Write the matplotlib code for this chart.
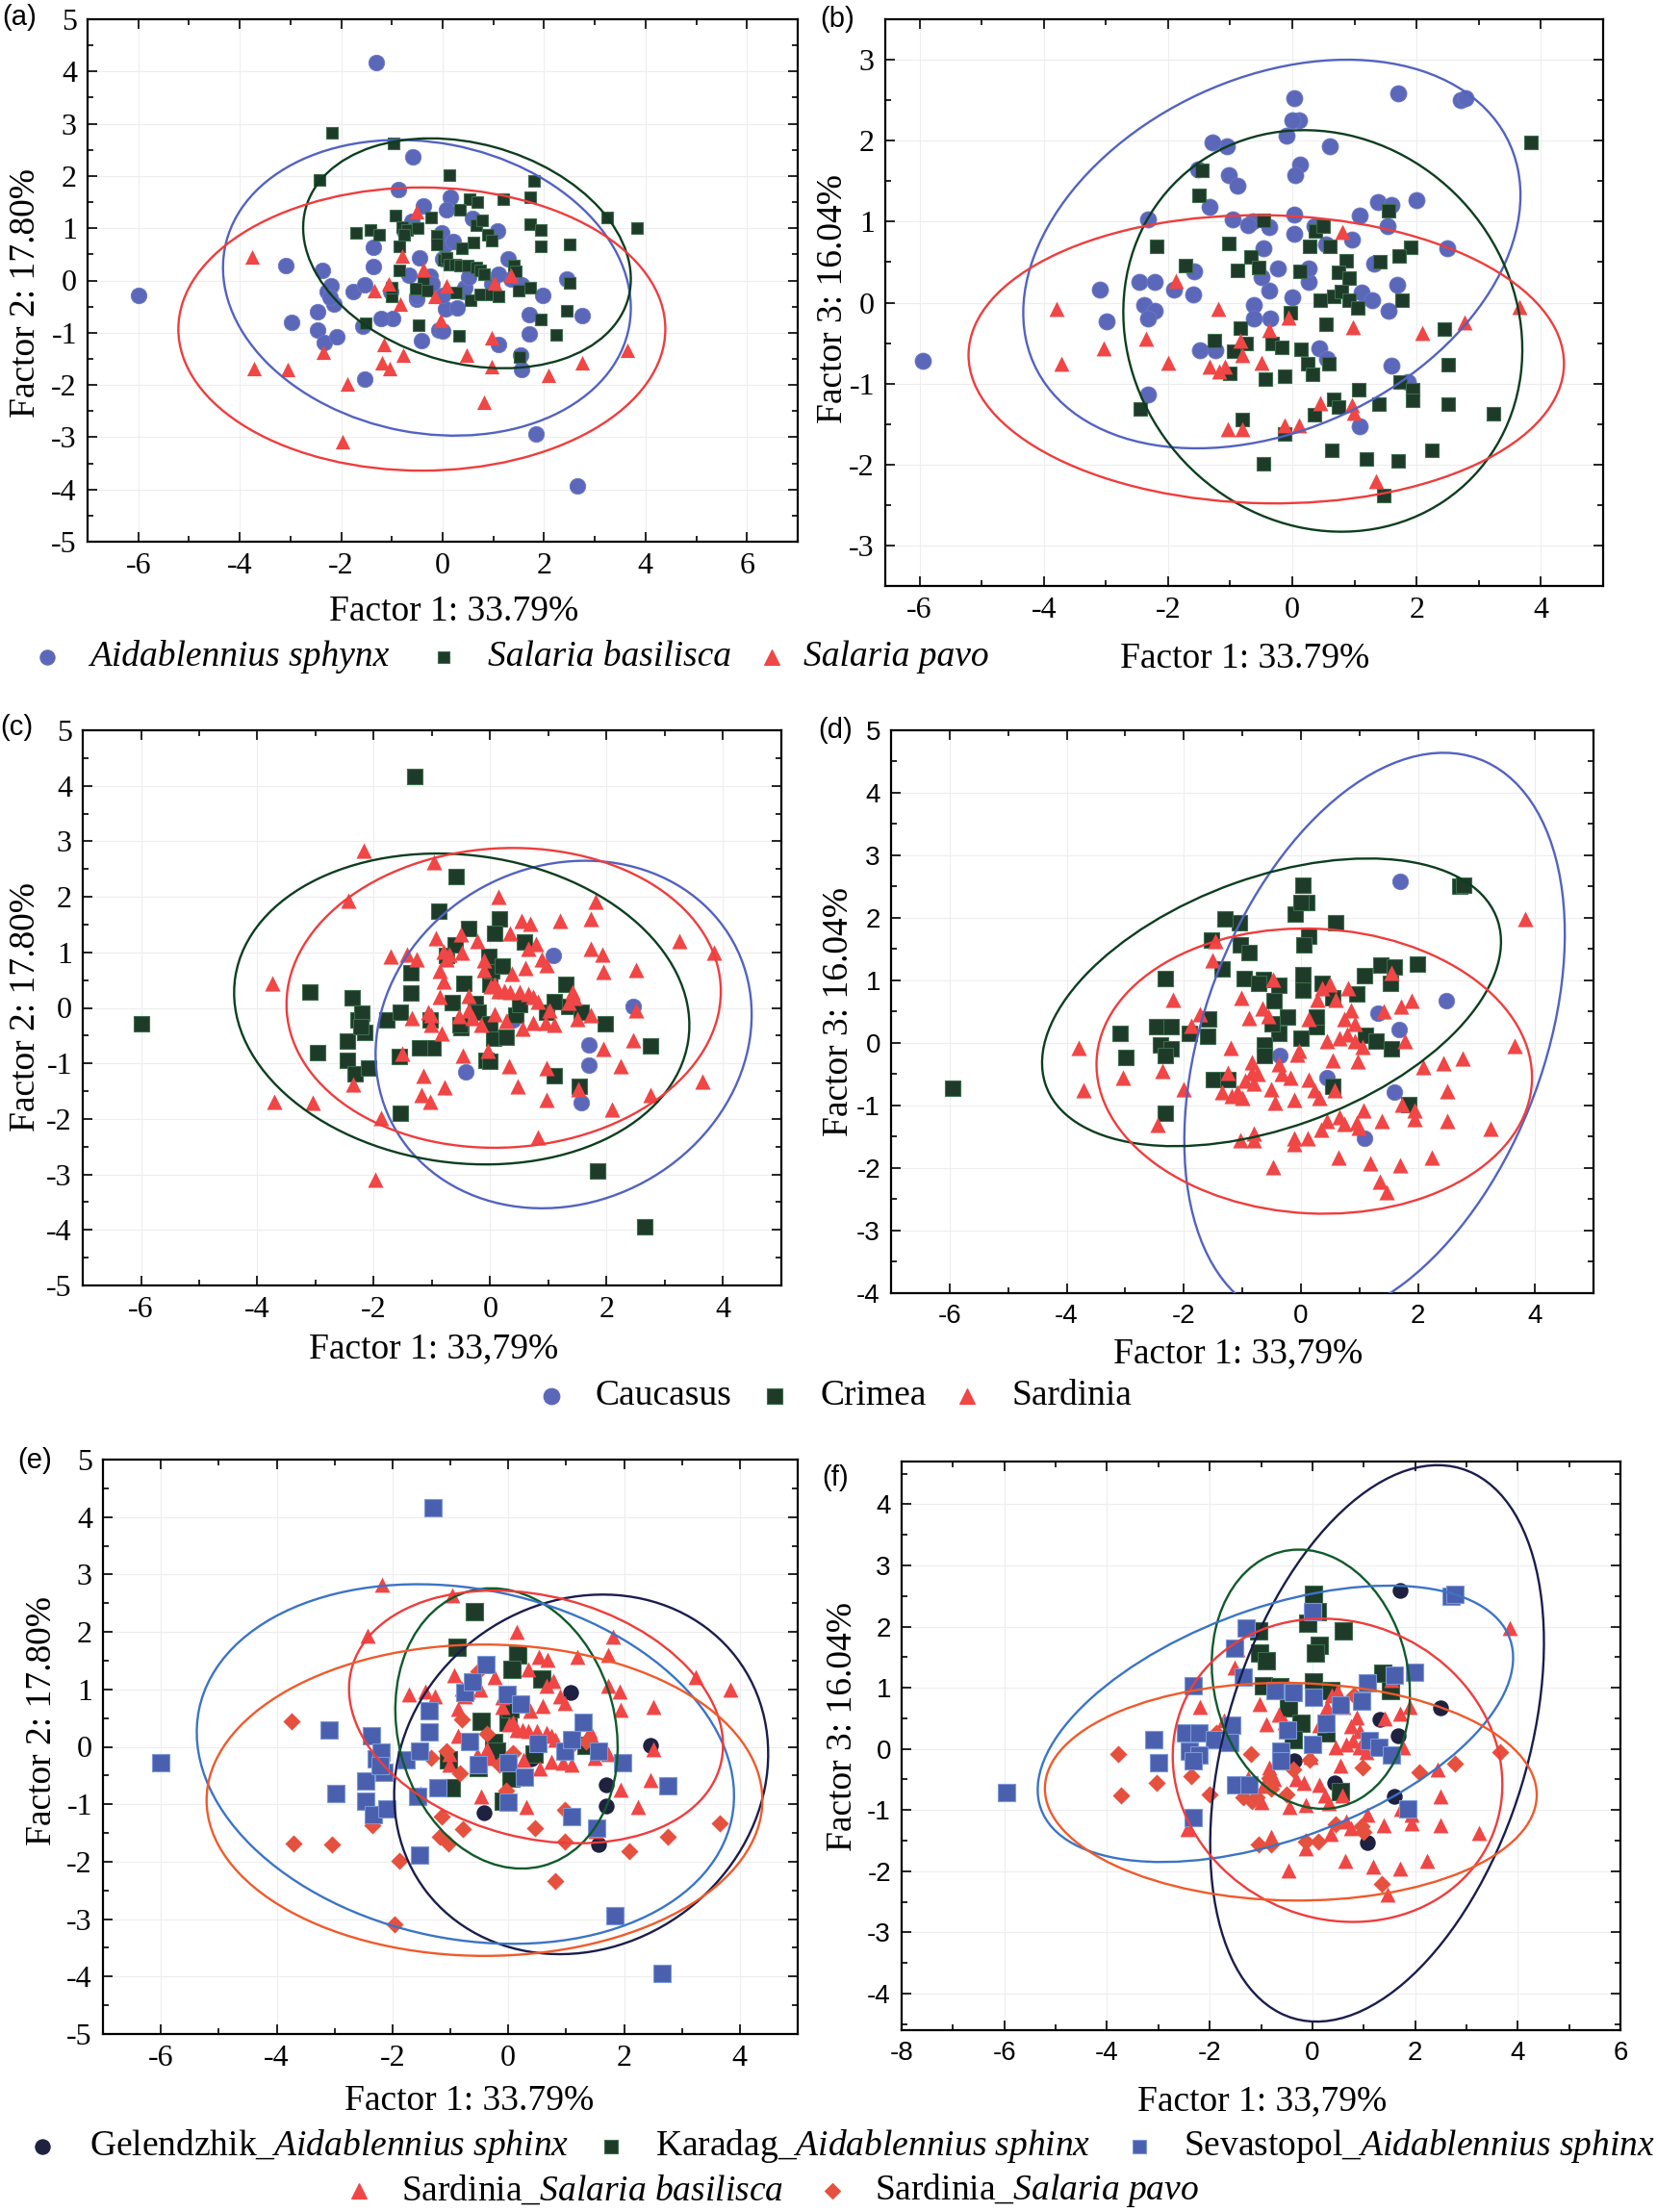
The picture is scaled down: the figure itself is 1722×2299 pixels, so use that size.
import numpy as np
import matplotlib
matplotlib.use("Agg")
import matplotlib.pyplot as plt
from matplotlib.patches import Ellipse
from matplotlib.ticker import MultipleLocator

plt.rcParams['font.family'] = ['Liberation Serif', 'DejaVu Serif']
plt.rcParams['mathtext.fontset'] = 'custom'
plt.rcParams['mathtext.rm'] = 'Liberation Serif'
plt.rcParams['mathtext.it'] = 'Liberation Serif:italic'
plt.rcParams['axes.unicode_minus'] = False

# ===================== DATA =====================
# ---- plane Factor 1 x Factor 2 ----
gel12_f1 = [1.08, 2.45, 1.70, 1.70, 1.56, -0.42, 0.39]
gel12_f2 = [0.94, 0.02, -0.66, -1.03, -1.70, -1.15, -0.21]

kar12_f1 = [-0.59, -0.88, 0.16, 0.07, 0.58, -0.46, 0.00, 0.03, -0.25, -0.20,
            -1.03, -0.51, 0.05, -0.98, -0.08, 1.35, 0.44]
kar12_f2 = [2.36, 1.74, 1.60, 1.35, 1.18, 0.44, 0.42, 0.67, 0.08, -0.07,
            -0.22, -0.36, -0.55, -0.72, -0.94, 0.03, -0.13]

sev12_f1 = [-1.30, -6.00, -3.10, -2.37, -2.28, -2.15, -2.46, -2.97, -2.46, -2.33,
            -2.09, -1.54, -1.57, -1.21, -1.77, -1.54, -1.36, -1.36, -0.75, -0.61,
            -0.38, -0.66, -0.52, 0.00, 0.00, 0.28, -0.02, 0.21, 0.51, 0.97,
            1.10, 1.29, 1.56, 1.97, 2.75, 1.10, 1.53, 1.84, 2.66, -2.20, -2.22]
sev12_f2 = [4.17, -0.28, 0.29, 0.19, -0.21, -0.45, -0.60, -0.81, -0.95, -1.18,
            -1.08, -1.89, -0.87, -0.72, -0.22, -0.08, 0.63, 0.26, 0.94, 1.13,
            1.43, 0.10, -0.31, -0.28, -0.97, -0.52, 0.92, 0.75, 0.06, -0.07,
            0.12, 0.42, -0.08, -0.28, -0.68, -1.22, -1.42, -2.94, -3.94, -0.10, -0.33]

bas12_f1 = [-2.18, -0.97, -2.43, 0.14, 1.81, 1.73, 0.53, 0.68, 1.20, 0.34,
            -0.93, -0.23, 3.24, 3.84, 1.73, 1.93, -1.71, -1.43, -1.26, -0.80,
            -0.70, -0.49, -0.75, -0.11, -0.11, 0.66, 0.78, 0.89, 0.97, 0.60,
            0.38, 1.94, 2.50, -0.86, -0.86, 0.01, 0.08, 0.14, 0.24, 0.34,
            0.50, 0.66, 0.74, 0.81, 1.41, 1.45, -0.37, -0.53, -0.30, -1.01,
            0.27, 0.55, 0.74, 0.95, 1.10, 1.49, 1.73, 2.50, -1.51, -0.47,
            0.32, 1.94, 2.45, 2.24, 1.51, -1.01]
bas12_f2 = [2.83, 2.63, 1.93, 2.01, 1.91, 1.60, 1.56, 1.51, 1.56, 1.35,
            1.25, 1.21, 1.21, 1.00, 1.07, 0.96, 0.92, 0.96, 0.88, 1.02,
            0.96, 1.00, 0.88, 0.86, 0.69, 1.06, 1.15, 0.88, 0.77, 0.72,
            0.62, 0.65, 0.69, 0.66, 0.20, 0.39, 0.43, 0.30, 0.30, 0.28,
            0.28, 0.25, 0.20, 0.12, 0.28, 0.18, -0.05, -0.15, -0.19, -0.31,
            -0.23, -0.38, -0.26, -0.27, -0.31, -0.20, -0.13, -0.04, -0.82, -0.86,
            -1.05, -0.74, -0.58, -1.04, -1.47, -0.13]

pav12_f1 = [-3.75, -0.51, -0.80, -0.37, -1.34, -1.06, -0.84, 0.08, -0.15, -0.04,
            1.02, 1.35, -1.15, -1.19, -1.04, -0.78, -2.35, -3.71, -3.05, -1.88,
            -1.97, 0.47, 0.97, 0.97, 0.81, 2.09, 2.75, 3.65]
pav12_f2 = [0.45, 1.32, 0.47, 0.22, -0.19, -0.07, -0.46, -0.11, -0.31, -0.77,
            -0.05, 0.10, -1.22, -1.57, -1.69, -1.43, -1.37, -1.69, -1.70, -1.98,
            -3.09, -1.42, -1.09, -1.65, -2.33, -1.82, -1.57, -1.33]

# ---- plane Factor 1 x Factor 3 ----
gel13_f1 = [1.70, 2.49, 1.32, 1.68, -0.36, 0.44, 1.60, 1.08]
gel13_f3 = [2.59, 0.67, 0.48, 0.22, -0.20, -0.56, -0.78, -1.53]

kar13_f1 = [0.03, 0.10, -0.10, 0.60, -1.05, 0.13, 0.05, -1.03, -0.89, 1.37,
            1.53, -0.96, -0.64, 0.03, 0.36, -0.46, -0.23, -0.38, 0.26, 0.55]
kar13_f3 = [2.53, 2.25, 2.06, 1.93, 1.93, 1.70, 1.57, 1.57, 1.44, 1.24,
            0.95, 1.03, 1.01, 1.09, 0.95, 0.67, 0.42, 0.15, 0.26, -0.70]

sev13_f1 = [-5.95, 2.71, 2.78, 0.00, -1.29, -1.52, -1.34, -2.32, 1.99, 1.60,
            1.08, -0.72, -0.38, 0.03, 0.96, 0.54, -1.58, 0.26, -0.49, -3.09,
            -2.47, -2.21, -1.91, -1.60, -2.39, -2.21, -2.32, -0.62, -0.62, 0.00,
            1.11, 1.29, 1.54, -2.99, -1.49, -1.24, 1.85, -2.32]
sev13_f3 = [-0.72, 2.50, 2.53, 2.25, 1.98, 1.65, 1.18, 1.03, 1.26, 1.21,
            1.08, 0.96, 0.93, 0.85, 0.78, 0.72, 0.39, 0.42, 0.31, 0.16,
            0.26, 0.26, 0.16, 0.10, -0.03, -0.10, -0.20, -0.03, -0.20, 0.07,
            0.13, 0.03, -0.10, -0.23, -0.59, -0.59, -0.98, -1.13]

bas13_f1 = [3.84, -1.46, -1.51, -0.47, 1.54, 0.37, 0.49, 0.28, 0.60, -2.19,
            -1.02, 1.90, 1.71, -0.66, -1.72, -0.89, -0.55, 1.41, 0.86, 0.13,
            0.75, 0.92, 0.45, 0.66, 0.79, 0.92, 1.05, 1.77, -0.03, 0.54,
            -0.84, -1.25, -0.74, -0.95, -0.32, -0.17, 0.14, 0.24, 0.58, 0.32,
            -1.00, -0.44, -0.12, 2.44, 2.50, 1.73, 1.94, 1.07, 1.94, 0.66,
            0.75, 1.39, 2.50, 0.35, -2.44, -0.81, -0.12, 3.24, 0.64, -0.47,
            1.19, 1.70, 2.24, 1.47]
bas13_f3 = [1.98, 1.63, 1.33, 1.02, 1.13, 0.88, 0.94, 0.69, 0.69, 0.69,
            0.73, 0.68, 0.58, 0.56, 0.46, 0.40, 0.43, 0.50, 0.52, 0.39,
            0.38, 0.30, 0.03, 0.08, 0.14, 0.03, -0.06, 0.03, -0.13, -0.27,
            -0.31, -0.47, -0.50, -0.60, -0.50, -0.55, -0.58, -0.76, -0.76, -0.88,
            -0.87, -0.95, -0.91, -0.33, -0.77, -0.98, -1.08, -1.08, -1.21, -1.19,
            -1.29, -1.25, -1.25, -1.39, -1.31, -1.44, -1.62, -1.37, -1.83, -1.99,
            -1.93, -1.96, -1.83, -2.38]

pav13_f1 = [-3.79, -3.72, -3.04, -2.36, -2.00, -1.87, -1.19, -1.34, -1.18, -1.08,
            -0.84, -0.81, -0.50, -0.37, -0.06, 0.81, 0.98, 2.09, 2.77, 3.66,
            -1.04, -0.81, -0.12, 0.11, 0.45, 0.96, 0.99, 1.35]
pav13_f3 = [-0.08, -0.76, -0.56, -0.45, -0.74, 0.27, -0.08, -0.79, -0.85, -0.79,
            -0.47, -0.65, -0.74, -0.34, -0.18, 0.87, -0.30, -0.38, -0.24, -0.05,
            -1.56, -1.56, -1.52, -1.52, -1.24, -1.27, -1.36, -2.21]

# ---- 95% ellipses: [centre F1, centre Fy, F1 half-range, Fy half-range, F1 offset of top point]
ell12_aida = [-0.31, -0.14, 4.02, 2.83, -0.55]
ell12_bas = [0.48, 0.52, 3.23, 2.20, -0.72]
ell12_pav = [-0.41, -0.93, 4.80, 2.71, 0.00]
ell12_cau = [1.26, -0.48, 3.23, 3.13, 0.37]
ell12_cri = [-0.49, -0.02, 3.91, 2.80, -0.41]
ell12_sar = [0.23, 0.18, 3.73, 2.70, 0.16]
ell12_kar = [-0.03, 0.32, 1.92, 2.44, -0.26]
ell12_sev = [-0.74, -0.30, 4.64, 3.13, -0.82]

ell13_aida = [-0.33, 0.60, 4.00, 2.40, 1.21]
ell13_bas = [0.49, -0.35, 3.21, 2.48, -0.30]
ell13_pav = [-0.42, -0.70, 4.79, 1.78, -0.14]
ell13_cau = [1.26, 0.09, 3.25, 4.55, 1.18]
ell13_cri = [-0.50, 0.65, 3.92, 2.30, 1.65]
ell13_sar = [0.23, -0.45, 3.72, 2.28, -0.17]
ell13_kar = [-0.03, 1.14, 1.93, 2.12, -0.23]
ell13_sev = [-0.72, 0.41, 4.63, 2.26, 2.21]

# ---- text ----
lab_f1 = "Factor 1: 33.79%"
lab_f1c = "Factor 1: 33,79%"
lab_f2 = "Factor 2: 17.80%"
lab_f3 = "Factor 3: 16.04%"
species_names = ["Aidablennius sphynx", "Salaria basilisca", "Salaria pavo"]
region_names = ["Caucasus", "Crimea", "Sardinia"]
pop_names = [r"Gelendzhik_$\mathit{Aidablennius\ sphinx}$",
             r"Karadag_$\mathit{Aidablennius\ sphinx}$",
             r"Sevastopol_$\mathit{Aidablennius\ sphinx}$",
             r"Sardinia_$\mathit{Salaria\ basilisca}$",
             r"Sardinia_$\mathit{Salaria\ pavo}$"]

# ===================== STYLE =====================
C_BLUE = '#5b67b9'
C_GREEN = '#1e3b2a'
C_GREEN_E = '#3d6e4c'
C_RED = '#f04646'
C_NAVY = '#1e2140'
C_SEV = '#4a60ae'
C_SEV_E = '#7a98d8'
C_DIAM = '#e6503e'

E_BLUE = '#5262c2'
E_GREEN = '#0c3e1e'
E_RED = '#f03c3c'
E_NAVY = '#1a1d4c'
E_KAR = '#0f5a2a'
E_SEV = '#3b74c6'
E_PAV = '#f05a2a'

W, H = 1722, 2299
fig = plt.figure(figsize=(W / 100, H / 100), dpi=100)
fig.patch.set_facecolor('white')


def add_ax(x0, y0, x1, y1):
    return fig.add_axes([x0 / W, 1 - y1 / H, (x1 - x0) / W, (y1 - y0) / H])


def ftext(x, y, s, **kw):
    return fig.text(x / W, 1 - y / H, s, **kw)


def draw_ellipse(ax, p, color, lw=1.7):
    cx, cy, hx, hy, sh = p
    cov = np.array([[hx ** 2, sh * hy], [sh * hy, hy ** 2]])
    vals, vecs = np.linalg.eigh(cov)
    ang = np.degrees(np.arctan2(vecs[1, 1], vecs[0, 1]))
    ax.add_patch(Ellipse((cx, cy), 2 * np.sqrt(vals[1]), 2 * np.sqrt(vals[0]),
                         angle=ang, fill=False, edgecolor=color, lw=lw, zorder=6))


def setup(ax, xlim, ylim, xticks, yticks, sans=False):
    ax.set_xlim(*xlim)
    ax.set_ylim(*ylim)
    fam = 'Liberation Sans' if sans else 'Liberation Serif'
    fs = 20 if sans else 23
    xticks = list(xticks)
    yticks = list(yticks)
    ax.set_xticks(xticks, labels=[str(t) for t in xticks], fontsize=fs, fontfamily=fam)
    ax.set_yticks(yticks, labels=[str(t) for t in yticks], fontsize=fs, fontfamily=fam)
    ax.xaxis.set_minor_locator(MultipleLocator(1))
    ax.yaxis.set_minor_locator(MultipleLocator(0.5))
    ax.tick_params(which='both', direction='in', top=True, right=True, width=1.2)
    ax.tick_params(which='major', length=7, pad=8)
    ax.tick_params(which='minor', length=4)
    ax.grid(True, which='major', color='#ededed', lw=0.8)
    ax.set_axisbelow(True)
    for s in ax.spines.values():
        s.set_linewidth(1.6)


def cat(*lists):
    out = []
    for l in lists:
        out += l
    return out


aida12_f1 = cat(gel12_f1, kar12_f1, sev12_f1)
aida12_f2 = cat(gel12_f2, kar12_f2, sev12_f2)
aida13_f1 = cat(gel13_f1, kar13_f1, sev13_f1)
aida13_f3 = cat(gel13_f3, kar13_f3, sev13_f3)
cri12_f1 = cat(kar12_f1, sev12_f1)
cri12_f2 = cat(kar12_f2, sev12_f2)
cri13_f1 = cat(kar13_f1, sev13_f1)
cri13_f3 = cat(kar13_f3, sev13_f3)
sar12_f1 = cat(bas12_f1, pav12_f1)
sar12_f2 = cat(bas12_f2, pav12_f2)
sar13_f1 = cat(bas13_f1, pav13_f1)
sar13_f3 = cat(bas13_f3, pav13_f3)

# ---------- (a) ----------
ax = add_ax(91, 20, 829, 563)
setup(ax, (-7, 7), (-5, 5), range(-6, 7, 2), range(-5, 6))
ax.scatter(aida12_f1, aida12_f2, s=140, marker='o', c=C_BLUE, edgecolors='#6d78c6', linewidths=0.6, zorder=3)
ax.scatter(bas12_f1, bas12_f2, s=85, marker='s', c=C_GREEN, edgecolors=C_GREEN_E, linewidths=0.8, zorder=4)
ax.scatter(pav12_f1, pav12_f2, s=120, marker='^', c=C_RED, linewidths=0, zorder=5)
draw_ellipse(ax, ell12_aida, E_BLUE)
draw_ellipse(ax, ell12_bas, E_GREEN)
draw_ellipse(ax, ell12_pav, E_RED)

# ---------- (b) ----------
ax = add_ax(920, 20, 1666, 609)
setup(ax, (-6.55, 5.0), (-3.5, 3.5), range(-6, 5, 2), range(-3, 4))
ax.scatter(aida13_f1, aida13_f3, s=150, marker='o', c=C_BLUE, edgecolors='#6d78c6', linewidths=0.6, zorder=3)
ax.scatter(bas13_f1, bas13_f3, s=115, marker='s', c=C_GREEN, edgecolors=C_GREEN_E, linewidths=0.8, zorder=4)
ax.scatter(pav13_f1, pav13_f3, s=130, marker='^', c=C_RED, linewidths=0, zorder=5)
draw_ellipse(ax, ell13_aida, E_BLUE)
draw_ellipse(ax, ell13_bas, E_GREEN)
draw_ellipse(ax, ell13_pav, E_RED)

# ---------- (c) ----------
ax = add_ax(86, 759, 812, 1336)
setup(ax, (-7, 5), (-5, 5), range(-6, 5, 2), range(-5, 6))
ax.scatter(gel12_f1, gel12_f2, s=140, marker='o', c=C_BLUE, edgecolors='#6d78c6', linewidths=0.6, zorder=3)
ax.scatter(cri12_f1, cri12_f2, s=140, marker='s', c=C_GREEN, edgecolors=C_GREEN_E, linewidths=0.8, zorder=4)
ax.scatter(sar12_f1, sar12_f2, s=135, marker='^', c=C_RED, linewidths=0, zorder=5)
draw_ellipse(ax, ell12_cau, E_BLUE)
draw_ellipse(ax, ell12_cri, E_GREEN)
draw_ellipse(ax, ell12_sar, E_RED)

# ---------- (d) ----------
ax = add_ax(926, 759, 1656, 1344)
setup(ax, (-7, 5), (-4, 5), range(-6, 5, 2), range(-4, 6), sans=True)
ax.scatter(gel13_f1, gel13_f3, s=140, marker='o', c=C_BLUE, edgecolors='#6d78c6', linewidths=0.6, zorder=3)
ax.scatter(cri13_f1, cri13_f3, s=140, marker='s', c=C_GREEN, edgecolors=C_GREEN_E, linewidths=0.8, zorder=4)
ax.scatter(sar13_f1, sar13_f3, s=135, marker='^', c=C_RED, linewidths=0, zorder=5)
draw_ellipse(ax, ell13_cau, E_BLUE)
draw_ellipse(ax, ell13_cri, E_GREEN)
draw_ellipse(ax, ell13_sar, E_RED)

# ---------- (e) ----------
ax = add_ax(107, 1517, 829, 2114)
setup(ax, (-7, 5), (-5, 5), range(-6, 5, 2), range(-5, 6))
ax.scatter(gel12_f1, gel12_f2, s=140, marker='o', c=C_NAVY, linewidths=0, zorder=3)
ax.scatter(kar12_f1, kar12_f2, s=160, marker='s', c=C_GREEN, edgecolors=C_GREEN_E, linewidths=0.8, zorder=3.2)
ax.scatter(bas12_f1, bas12_f2, s=130, marker='^', c=C_RED, linewidths=0, zorder=3.4)
ax.scatter(pav12_f1, pav12_f2, s=85, marker='D', c=C_DIAM, linewidths=0, zorder=3.6)
ax.scatter(sev12_f1, sev12_f2, s=165, marker='s', c=C_SEV, edgecolors=C_SEV_E, linewidths=0.8, zorder=3.8)
draw_ellipse(ax, ell12_cau, E_NAVY)
draw_ellipse(ax, ell12_kar, E_KAR)
draw_ellipse(ax, ell12_sev, E_SEV)
draw_ellipse(ax, ell12_bas, E_RED)
draw_ellipse(ax, ell12_pav, E_PAV)

# ---------- (f) ----------
ax = add_ax(937, 1519, 1684, 2110)
setup(ax, (-8, 6), (-4.6, 4.7), range(-8, 7, 2), range(-4, 5), sans=True)
ax.scatter(gel13_f1, gel13_f3, s=140, marker='o', c=C_NAVY, linewidths=0, zorder=3)
ax.scatter(kar13_f1, kar13_f3, s=160, marker='s', c=C_GREEN, edgecolors=C_GREEN_E, linewidths=0.8, zorder=3.2)
ax.scatter(bas13_f1, bas13_f3, s=130, marker='^', c=C_RED, linewidths=0, zorder=3.4)
ax.scatter(pav13_f1, pav13_f3, s=85, marker='D', c=C_DIAM, linewidths=0, zorder=3.6)
ax.scatter(sev13_f1, sev13_f3, s=165, marker='s', c=C_SEV, edgecolors=C_SEV_E, linewidths=0.8, zorder=3.8)
draw_ellipse(ax, ell13_cau, E_NAVY)
draw_ellipse(ax, ell13_kar, E_KAR)
draw_ellipse(ax, ell13_sev, E_SEV)
draw_ellipse(ax, ell13_bas, E_RED)
draw_ellipse(ax, ell13_pav, E_PAV)

# ---------- axis labels ----------
FS = 27
for (x, y, s) in [(472, 636, lab_f1), (1294, 685, lab_f1), (451, 1402, lab_f1c),
                  (1287, 1407, lab_f1c), (488, 2184, lab_f1), (1312, 2184, lab_f1c)]:
    ftext(x, y, s, fontsize=FS, ha='center', va='center')
for (x, y, s) in [(27, 304, lab_f2), (866, 311, lab_f3), (27, 1046, lab_f2),
                  (872, 1052, lab_f3), (44, 1788, lab_f2), (876, 1795, lab_f3)]:
    ftext(x, y, s, fontsize=FS, ha='center', va='center', rotation=90)

# ---------- panel letters ----------
for (x, y, s) in [(2, 4, '(a)'), (852, 6, '(b)'), (0, 742, '(c)'),
                  (850, 745, '(d)'), (18, 1504, '(e)'), (854, 1522, '(f)')]:
    ftext(x, y, s, fontsize=21, ha='left', va='top', family='Liberation Sans')

# ---------- legends ----------
lax = fig.add_axes([0, 0, 1, 1])
lax.set_xlim(0, W)
lax.set_ylim(H, 0)
lax.axis('off')


def leg(xm, y, marker, color, ms, xt, label, italic=False, mec=None):
    lax.plot([xm], [y], marker=marker, ls='none', ms=ms, color=color,
             mec=mec if mec else color, mew=0.8)
    lax.text(xt, y, label, fontsize=FS, ha='left', va='center',
             style='italic' if italic else 'normal')


leg(49, 683, 'o', C_BLUE, 11, 93, species_names[0], italic=True)
leg(461, 683, 's', C_GREEN, 9, 507, species_names[1], italic=True, mec=C_GREEN_E)
leg(802, 683, '^', C_RED, 11, 835, species_names[2], italic=True)

leg(573, 1451, 'o', C_BLUE, 12, 618, region_names[0])
leg(805, 1451, 's', C_GREEN, 11, 853, region_names[1], mec=C_GREEN_E)
leg(1005, 1451, '^', C_RED, 12, 1052, region_names[2])

leg(44, 2231, 'o', C_NAVY, 11, 93, pop_names[0])
leg(635, 2231, 's', C_GREEN, 10, 681, pop_names[1], mec=C_GREEN_E)
leg(1184, 2231, 's', C_SEV, 10, 1230, pop_names[2], mec=C_SEV_E)
leg(373, 2277, '^', C_RED, 11, 417, pop_names[3])
leg(865, 2277, 'D', C_DIAM, 8, 909, pop_names[4])

fig.savefig('out.png', dpi=100)
